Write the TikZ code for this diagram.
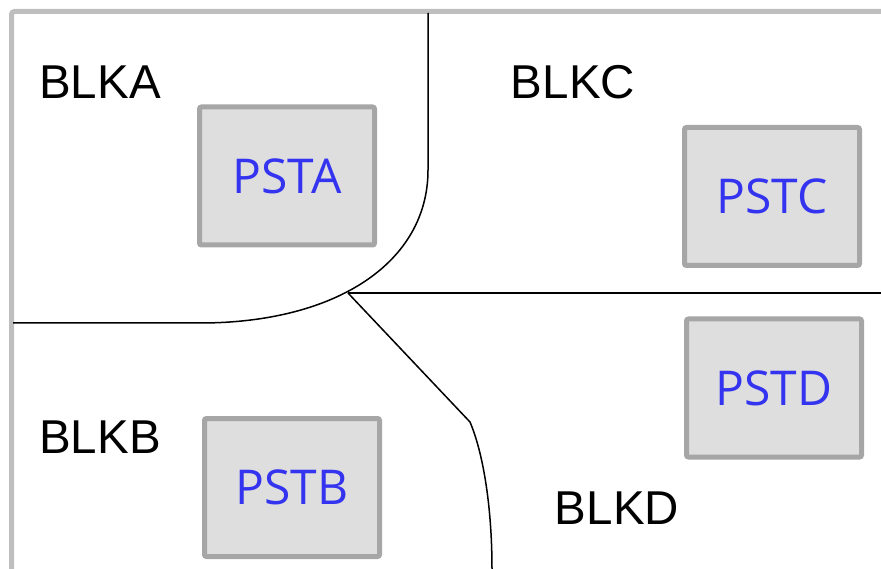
\documentclass[tikz,border=0pt]{standalone}
\usepackage{fontspec}
\setmainfont{Liberation Sans}
\newfontfamily\pstfont{Open Sans}
\definecolor{framegray}{RGB}{190,190,190}
\definecolor{boxedge}{RGB}{166,166,166}
\definecolor{boxfill}{RGB}{222,222,222}
\definecolor{pstblue}{RGB}{51,51,240}
\begin{document}
\begin{tikzpicture}[x=1pt,y=-1pt,
  blklabel/.style={font=\fontsize{47.5}{52}\selectfont, text=black, inner sep=0pt},
  pstbox/.style={draw=boxedge, line width=5pt, fill=boxfill, rounded corners=2pt,
    minimum width=175pt, minimum height=138pt, inner sep=0pt,
    font=\pstfont\fontsize{48}{52}\selectfont, text=pstblue},
  border/.style={draw=black, line width=1.5pt}]
  \useasboundingbox (0,0) rectangle (881,569);
  \begin{scope}
    \clip (0,0) rectangle (881,569);
    \draw[framegray, line width=5pt, rounded corners=3pt] (11.5,11.5) rectangle (920,620);
  \end{scope}

  % region boundaries
  \coordinate (topv) at (428,13);
  \coordinate (bend) at (428,170);
  \coordinate (meet) at (348,293);
  \coordinate (sweep) at (200,323);
  \coordinate (leftend) at (13,323);
  \coordinate (rightend) at (881,293);
  \coordinate (kink) at (470,422);
  \coordinate (bottomend) at (492,569);

  \draw[border] (topv) -- (bend)
     .. controls (428,262) and (337,323) .. (sweep) -- (leftend);
  \draw[border] (meet) -- (rightend);
  \draw[border] (meet) -- (kink)
     .. controls (484,455) and (492,510) .. (bottomend);

  % block names
  \node[blklabel] (blkA) at (100,82) {BLKA};
  \node[blklabel] (blkC) at (573,82) {BLKC};
  \node[blklabel] (blkB) at (100,437) {BLKB};
  \node[blklabel] (blkD) at (617,508) {BLKD};

  % placement boxes
  \node[pstbox] (pstA) at (287,176) {PSTA};
  \node[pstbox] (pstC) at (772,196.5) {PSTC};
  \node[pstbox] (pstD) at (774,388) {PSTD};
  \node[pstbox] (pstB) at (292,487.5) {PSTB};
\end{tikzpicture}
\end{document}
